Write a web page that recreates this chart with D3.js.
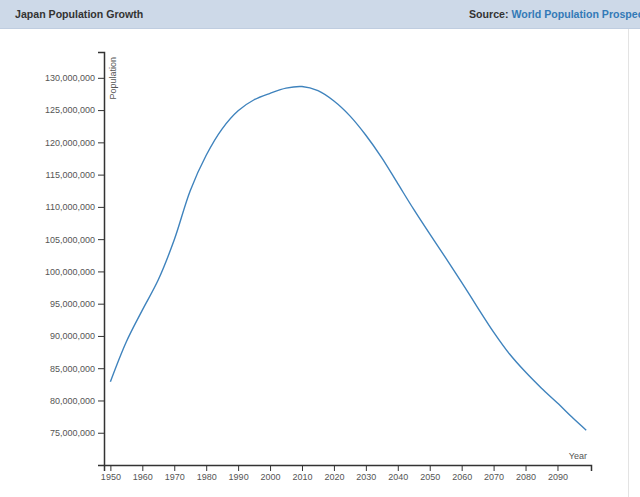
<!DOCTYPE html>
<html>
<head>
<meta charset="utf-8">
<script src="https://cdn.jsdelivr.net/npm/d3@7"></script>
<style>
  body { margin: 0; background: #fff; font-family: "Liberation Sans", Arial, sans-serif; overflow: hidden; }
  .axis text { fill: #555; font-size: 9px; font-family: "Liberation Sans", Arial, sans-serif; }
  .axis path, .axis line { stroke: #333; }
</style>
</head>
<body>
<div id="chart"></div>
<script>
// values (population in millions)
const years = [1950, 1955, 1960, 1965, 1970, 1975, 1980, 1985, 1990, 1995,
               2000, 2005, 2010, 2015, 2020, 2025, 2030, 2035, 2040, 2045,
               2050, 2055, 2060, 2065, 2070, 2075, 2080, 2085, 2090, 2095, 2099];
const population = [82.9, 89.1, 94.0, 98.7, 104.9, 112.5, 118.0, 122.1, 124.9, 126.6,
                    127.6, 128.4, 128.65, 128.0, 126.4, 124.1, 121.1, 117.6, 113.6, 109.6,
                    105.8, 102.1, 98.3, 94.4, 90.6, 87.2, 84.4, 81.9, 79.6, 77.2, 75.4];
const yTicks = [75, 80, 85, 90, 95, 100, 105, 110, 115, 120, 125, 130];
const xTicks = [1950, 1960, 1970, 1980, 1990, 2000, 2010, 2020, 2030, 2040, 2050, 2060, 2070, 2080, 2090];

const W = 640, H = 497;
const plotLeft = 104, plotRight = 591, plotTop = 52, plotBottom = 465;

const data = years.map((y, i) => ({ year: y, pop: population[i] * 1e6 }));

const svg = d3.select('#chart').append('svg')
    .attr('width', W)
    .attr('height', H);

// header band
svg.append('rect')
    .attr('x', 0).attr('y', 0)
    .attr('width', W).attr('height', 28.5)
    .attr('fill', '#cdd9e8');
svg.append('line')
    .attr('x1', 0).attr('x2', W)
    .attr('y1', 28.5).attr('y2', 28.5)
    .attr('stroke', '#bfcde0');

svg.append('text')
    .attr('x', 15).attr('y', 18.3)
    .attr('font-size', '10.6px')
    .attr('font-weight', 'bold')
    .attr('fill', '#333')
    .text('Japan Population Growth');

const src = svg.append('text')
    .attr('x', 469).attr('y', 18.3)
    .attr('font-size', '10.6px')
    .attr('font-weight', 'bold')
    .attr('fill', '#333');
src.append('tspan').text('Source: ');
src.append('tspan').attr('fill', '#337ab7').text('World Population Prospects');

// thin panel border on the right
svg.append('line')
    .attr('x1', 628.5).attr('x2', 628.5)
    .attr('y1', 29).attr('y2', H)
    .attr('stroke', '#e3e3e3');

const x = d3.scaleLinear().domain([1948, 2100.5]).range([plotLeft, plotRight]);
const y = d3.scaleLinear().domain([70e6, 134e6]).range([plotBottom, plotTop]);

// x axis
const gx = svg.append('g')
    .attr('class', 'axis')
    .attr('transform', `translate(0,${plotBottom})`)
    .call(d3.axisBottom(x).tickValues(xTicks).tickFormat(d3.format('d')));
gx.select('.domain').attr('stroke-width', 1.5);
gx.append('text')
    .attr('x', 587).attr('y', -6)
    .attr('text-anchor', 'end')
    .text('Year');

// y axis
const gy = svg.append('g')
    .attr('class', 'axis')
    .attr('transform', `translate(${plotLeft},0)`)
    .call(d3.axisLeft(y).tickValues(yTicks.map(v => v * 1e6)).tickFormat(d3.format(',')));
gy.select('.domain').attr('stroke-width', 1.5);
gy.append('text')
    .attr('transform', 'rotate(-90)')
    .attr('x', -(plotTop + 5))
    .attr('y', 6)
    .attr('dy', '.71em')
    .attr('text-anchor', 'end')
    .text('Population');

// the line
const line = d3.line()
    .curve(d3.curveCatmullRom)
    .x(d => x(d.year))
    .y(d => y(d.pop));

svg.append('path')
    .datum(data)
    .attr('d', line)
    .attr('fill', 'none')
    .attr('stroke', '#3f83bd')
    .attr('stroke-width', 1.4);
</script>
</body>
</html>
